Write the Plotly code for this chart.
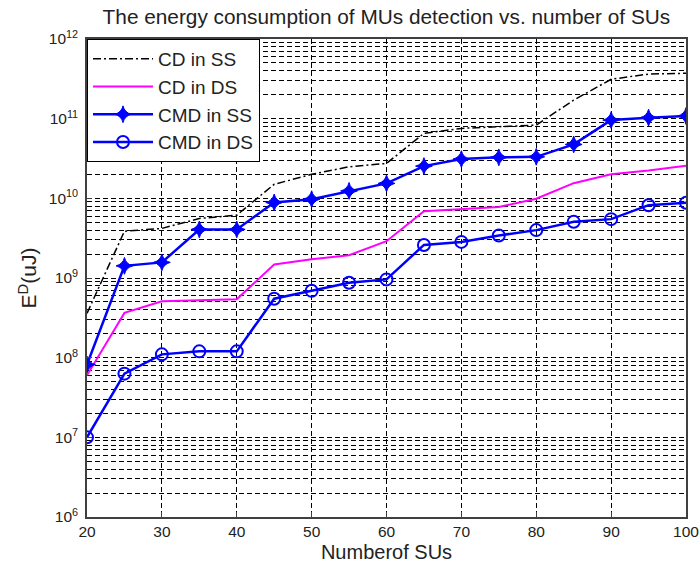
import plotly.graph_objects as go

num_sus = [20, 25, 30, 35, 40, 45, 50, 55, 60, 65, 70, 75, 80, 85, 90, 95, 100]

cd_ss = [3.6e8, 3.87e9, 4.19e9, 5.59e9, 6.15e9, 1.5e10, 2.0e10, 2.49e10, 2.74e10,
         6.53e10, 7.55e10, 7.91e10, 8.31e10, 1.71e11, 3.12e11, 3.63e11, 3.71e11]
cd_ds = [6.0e7, 3.65e8, 5.1e8, 5.25e8, 5.4e8, 1.48e9, 1.72e9, 1.93e9, 2.9e9,
         6.9e9, 7.3e9, 7.8e9, 9.9e9, 1.55e10, 2.01e10, 2.23e10, 2.56e10]
cmd_ss = [8.2e7, 1.42e9, 1.57e9, 4.07e9, 4.07e9, 8.88e9, 9.77e9, 1.24e10, 1.54e10,
          2.54e10, 3.11e10, 3.27e10, 3.32e10, 4.75e10, 9.6e10, 1.03e11, 1.08e11]
cmd_ds = [1.0e7, 6.3e7, 1.1e8, 1.2e8, 1.2e8, 5.5e8, 6.9e8, 8.7e8, 9.6e8,
          2.6e9, 2.84e9, 3.42e9, 3.99e9, 5.07e9, 5.48e9, 8.2e9, 8.78e9]

x_ticks = [20, 30, 40, 50, 60, 70, 80, 90, 100]
y_tick_vals = [1e6, 1e7, 1e8, 1e9, 1e10, 1e11, 1e12]
y_tick_text = ["10<sup>6</sup>", "10<sup>7</sup>", "10<sup>8</sup>", "10<sup>9</sup>",
               "10<sup>10</sup>", "10<sup>11</sup>", "10<sup>12</sup>"]

FONT = "Liberation Sans, Arial, sans-serif"
TXT = "#222222"

fig = go.Figure()
fig.add_trace(go.Scatter(x=num_sus, y=cd_ss, mode="lines", name="CD in SS",
                         line=dict(color="black", width=1.5, dash="8px,3px,2px,3px")))
fig.add_trace(go.Scatter(x=num_sus, y=cd_ds, mode="lines", name="CD in DS",
                         line=dict(color="#FF00FF", width=2)))
fig.add_trace(go.Scatter(x=num_sus, y=cmd_ss, mode="lines+markers", name="CMD in SS",
                         line=dict(color="#0000FF", width=2.5),
                         marker=dict(symbol="star-diamond", size=12, color="#0000FF",
                                     line=dict(color="#0000FF", width=1))))
fig.add_trace(go.Scatter(x=num_sus, y=cmd_ds, mode="lines+markers", name="CMD in DS",
                         line=dict(color="#0000FF", width=2.5),
                         marker=dict(symbol="circle-open", size=12, color="#0000FF",
                                     line=dict(color="#0000FF", width=2))))

fig.update_layout(
    width=700, height=572,
    margin=dict(l=87, r=14, t=39, b=55, autoexpand=False),
    paper_bgcolor="white", plot_bgcolor="white",
    font=dict(family=FONT, color=TXT),
    title=dict(text="The energy consumption of MUs detection vs. number of SUs",
               x=0.552, xanchor="center", y=0.970, yanchor="middle",
               font=dict(size=20.8, family=FONT, color=TXT)),
    legend=dict(x=0, y=1, xanchor="left", yanchor="top",
                bgcolor="white", bordercolor="black", borderwidth=1,
                font=dict(size=19, family=FONT, color=TXT),
                itemwidth=60, tracegroupgap=0),
    showlegend=True,
)

fig.update_xaxes(
    range=[20, 100], tickvals=x_ticks, automargin=False,
    showgrid=True, gridcolor="black", griddash="5px,3px", gridwidth=1,
    showline=True, linecolor="#404040", linewidth=1.5, mirror=True,
    ticks="inside", ticklen=5, tickcolor="#404040",
    tickfont=dict(size=15.5, family=FONT, color=TXT),
    title=dict(text="Numberof SUs", font=dict(size=20, family=FONT, color=TXT), standoff=6),
    zeroline=False,
)
fig.update_yaxes(
    type="log", range=[6, 12], automargin=False,
    tickvals=y_tick_vals, ticktext=y_tick_text,
    showgrid=True, gridcolor="black", griddash="5px,3px", gridwidth=1,
    minor=dict(showgrid=True, gridcolor="black", griddash="5px,3px", gridwidth=1,
               ticks="", dtick="D1"),
    showline=True, linecolor="#404040", linewidth=1.5, mirror=True,
    ticks="inside", ticklen=5, tickcolor="#404040",
    tickfont=dict(size=15.5, family=FONT, color=TXT),
    ticklabelstandoff=4,
    title=dict(text="E<sup>D</sup>(uJ)", font=dict(size=21, family=FONT, color=TXT), standoff=6),
    zeroline=False,
)

fig.write_html("out.html", config={"displayModeBar": False},
               post_script="document.body.style.margin='0';")
